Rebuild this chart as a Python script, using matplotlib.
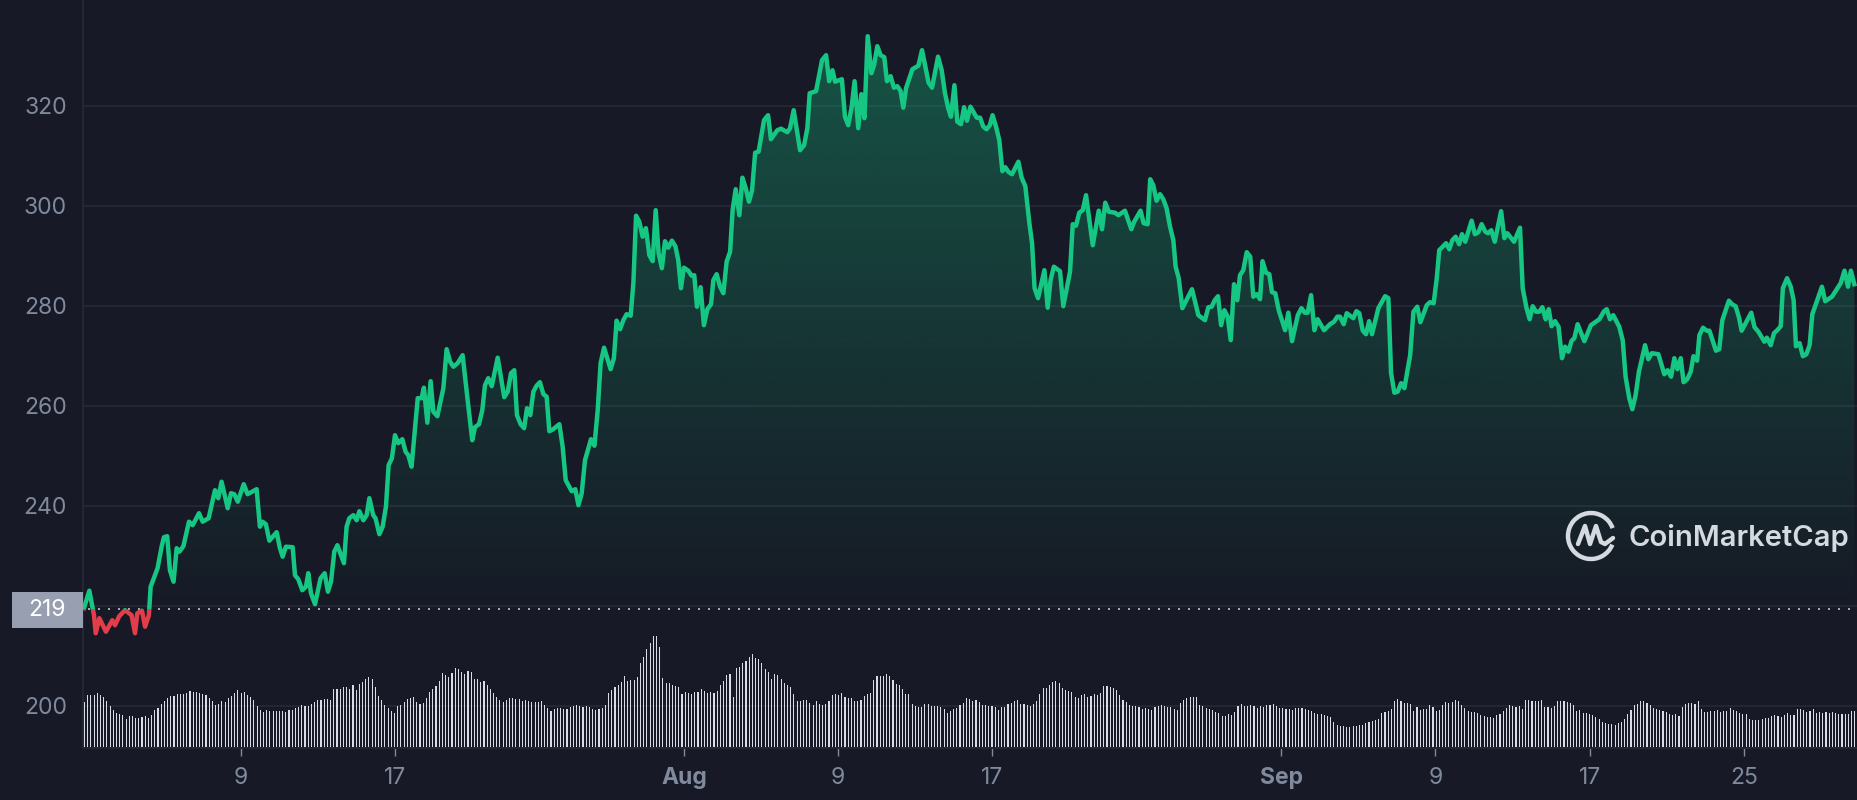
import numpy as np
import matplotlib
matplotlib.use("Agg")
import matplotlib.pyplot as plt
from matplotlib.lines import Line2D
from matplotlib.patches import Arc, Rectangle
from matplotlib.path import Path

plt.rcParams['font.family'] = ['Inter', 'DejaVu Sans']

BG = "#171a26"
GRID = "#232734"
GREY = "#808a9d"
GREEN = "#16c784"
RED = "#e23d4b"

# days since Jul 1
price_days = [
    -0.13, 0.15, 0.39, 0.48, 0.67, 1.01, 1.34, 1.48, 1.70, 2.0, 2.34, 2.52, 2.64, 2.88, 3.04, 3.24, 3.33, 3.69, 3.90, 4.02,
    4.19, 4.33, 4.52, 4.68, 4.82, 5.03, 5.32, 5.51, 5.84, 6.03, 6.34, 6.67, 6.84, 7.01, 7.33, 7.50, 7.67, 7.85, 8.16, 8.36,
    8.83, 9.0, 9.14, 9.31, 9.49, 9.87, 10.04, 10.18, 10.35, 10.70, 10.82, 10.99, 11.2, 11.39, 11.51, 11.65, 11.86, 12.15, 12.36, 12.53,
    12.69, 12.86, 13.02, 13.36, 13.5, 13.64, 13.85, 14.02, 14.16, 14.37, 14.54, 14.68, 14.88, 15.0, 15.2, 15.37, 15.54, 15.68, 15.85, 16.01,
    16.18, 16.39, 16.56, 16.70, 16.87, 17.19, 17.39, 17.51, 17.69, 17.86, 18.0, 18.21, 18.52, 18.69, 18.87, 19.04, 19.26, 19.52, 19.76, 20.02,
    20.16, 20.37, 20.54, 20.68, 20.85, 21.03, 21.34, 21.68, 21.86, 22.03, 22.2, 22.34, 22.53, 22.71, 22.86, 23.03, 23.19, 23.36, 23.53, 23.71,
    23.88, 24.02, 24.22, 24.54, 24.71, 24.87, 25.18, 25.37, 25.53, 25.70, 25.87, 26.18, 26.36, 26.53, 26.68, 26.86, 27.2, 27.37, 27.51, 27.69,
    27.86, 28.03, 28.24, 28.38, 28.52, 28.69, 28.86, 29.03, 29.21, 29.38, 29.54, 29.69, 29.86, 30.02, 30.19, 30.38, 30.56, 30.71, 30.85, 31.0,
    31.23, 31.4, 31.54, 31.68, 31.87, 32.04, 32.22, 32.41, 32.53, 32.7, 32.88, 33.05, 33.22, 33.4, 33.53, 33.69, 33.88, 34.04, 34.21, 34.38,
    34.54, 34.7, 34.88, 35.16, 35.37, 35.52, 35.85, 36.04, 36.37, 36.51, 36.7, 37.03, 37.24, 37.41, 37.53, 37.86, 38.17, 38.38, 38.54, 38.71,
    38.85, 39.2, 39.36, 39.53, 39.71, 39.86, 40.05, 40.21, 40.37, 40.54, 40.73, 40.87, 41.04, 41.21, 41.4, 41.54, 41.73, 41.9, 42.08, 42.24,
    42.39, 42.53, 42.86, 43.17, 43.36, 43.7, 43.88, 44.19, 44.38, 44.55, 44.72, 44.86, 45.04, 45.19, 45.38, 45.54, 45.69, 45.87, 46.2, 46.37,
    46.54, 46.71, 46.88, 47.02, 47.2, 47.37, 47.53, 47.68, 47.86, 48.03, 48.36, 48.53, 48.72, 48.93, 49.07, 49.2, 49.38, 49.71, 49.88, 50.03,
    50.2, 50.52, 50.69, 51.04, 51.18, 51.35, 51.52, 51.7, 51.87, 52.22, 52.53, 52.7, 52.87, 53.05, 53.37, 53.55, 53.89, 54.22, 54.37, 54.7,
    54.86, 55.07, 55.2, 55.36, 55.53, 55.71, 55.88, 56.05, 56.23, 56.4, 56.52, 56.68, 56.87, 57.37, 57.7, 58.04, 58.22, 58.39, 58.55, 58.72,
    58.88, 59.05, 59.22, 59.38, 59.55, 59.72, 59.86, 60.03, 60.21, 60.39, 60.55, 60.73, 60.9, 61.03, 61.21, 61.38, 61.52, 61.69, 61.87, 62.2,
    62.37, 62.56, 62.86, 63.05, 63.22, 63.37, 63.55, 63.72, 63.89, 64.22, 64.53, 64.74, 64.91, 65.05, 65.24, 65.4, 65.74, 65.9, 66.05, 66.23,
    66.4, 66.56, 66.71, 67.04, 67.39, 67.56, 67.7, 67.87, 68.04, 68.22, 68.39, 68.69, 68.86, 69.06, 69.22, 69.55, 69.72, 69.91, 70.07, 70.2,
    70.38, 70.55, 70.72, 70.88, 71.05, 71.23, 71.38, 71.55, 71.88, 72.05, 72.23, 72.4, 72.59, 72.73, 72.9, 73.08, 73.41, 73.58, 73.73, 74.08,
    74.39, 74.53, 74.73, 74.89, 75.05, 75.22, 75.39, 75.55, 75.72, 75.88, 76.03, 76.21, 76.39, 76.57, 76.73, 76.9, 77.07, 77.21, 77.38, 77.73,
    78.07, 78.51, 78.75, 78.89, 79.06, 79.23, 79.54, 79.72, 79.87, 80.06, 80.22, 80.39, 80.56, 80.88, 81.05, 81.23, 81.57, 81.88, 82.05, 82.23,
    82.4, 82.56, 82.73, 82.88, 83.07, 83.25, 83.39, 83.58, 83.7, 83.89, 84.08, 84.22, 84.56, 84.73, 84.89, 85.23, 85.39, 85.58, 85.75, 85.89,
    86.39, 86.56, 86.76, 87.07, 87.2, 87.4, 87.57, 87.74, 87.92, 88.03, 88.25, 88.44, 88.59, 88.71, 88.9, 89.07, 89.25, 89.42, 89.56, 90.06,
    90.23, 90.58, 91.03, 91.23, 91.41, 91.56, 91.74,
]
price_vals = [
    219.5, 223, 218.1, 214.5, 217.5, 214.8, 217.1, 216.1, 217.9, 219.1, 218.1, 214.5, 218.5, 219, 215.8, 218.1, 223.8, 227.5, 231.8, 233.7,
    233.9, 227.1, 224.8, 231.5, 230.8, 231.9, 236.8, 236.1, 238.5, 236.8, 237.5, 243.1, 241.5, 244.8, 239.5, 242.5, 242.3, 240.8, 244.3, 242.3,
    243.3, 235.8, 236.8, 236.3, 233, 234.7, 231.5, 229.8, 231.8, 231.7, 226.1, 225.3, 223.1, 223.8, 226.5, 222.5, 220.3, 225.5, 226.5, 222.8,
    224.8, 230.8, 232.1, 228.5, 235.8, 237.5, 238.1, 237.1, 238.9, 237.1, 238.1, 241.5, 238.1, 237.5, 234.3, 235.8, 239.8, 248.1, 249.5, 254.1,
    252.5, 253.3, 250.8, 250.1, 247.8, 261.5, 261.5, 263.6, 256.6, 264.9, 258.8, 257.9, 263.5, 271.3, 268.8, 267.8, 268.5, 270.1, 261.8, 253.1,
    255.7, 256.3, 259.1, 264.1, 265.5, 263.9, 269.6, 261.7, 262.8, 266.5, 267.1, 258.1, 256.3, 255.5, 259.5, 258.1, 262.8, 264, 264.7, 262.3,
    261.8, 254.9, 255.3, 256.3, 251.8, 245.1, 242.9, 243.3, 240.1, 242.5, 249.1, 253.3, 252, 259.1, 268.5, 271.6, 267.3, 269.5, 277, 275.3,
    277.1, 278.3, 278, 284.5, 298, 296.8, 293.8, 295.5, 290.1, 288.9, 299.1, 290.5, 287.5, 292.9, 291.6, 293, 291.9, 289.1, 283.5, 287.6,
    287, 286, 286.1, 279.8, 283.7, 276.1, 279.3, 280.3, 285.1, 286.3, 283.8, 282.5, 288.8, 290.8, 299.1, 303.3, 298.1, 305.6, 303.5, 300.8,
    303.1, 310.6, 310.8, 317.1, 318.1, 313.3, 315.1, 315.4, 314.7, 315.5, 319.1, 311.1, 312.1, 315.5, 322.5, 322.9, 329.1, 330.1, 324.9, 327.1,
    324.8, 325.3, 317.8, 316.1, 319.8, 324.9, 315.5, 322.3, 317.5, 333.9, 326.5, 328.1, 331.9, 330.1, 329.7, 324.9, 325.9, 323.6, 323.9, 323,
    319.6, 323.5, 327.3, 328, 331.1, 324.6, 323.6, 329.8, 327.1, 322.5, 319.5, 317.8, 324.1, 316.8, 316.3, 319.7, 317, 319.8, 317.6, 317.6,
    315.8, 315.3, 316.1, 318.1, 315.8, 313.1, 306.9, 307.7, 306.7, 306.3, 308.8, 305.6, 303.9, 296.5, 292.5, 283.5, 281.5, 287.1, 279.6, 285.1,
    287.8, 286.9, 279.9, 286.8, 296.3, 296, 298.6, 299.1, 302.1, 292.1, 299, 295.3, 300.6, 298.8, 298.6, 298.1, 299, 295.3, 296.8, 299,
    296.5, 296.3, 305.3, 304.1, 301, 302.3, 301.3, 299.5, 295.8, 293.1, 287.8, 285.5, 279.5, 283.3, 278.1, 277.1, 279.7, 279.8, 281.1, 281.9,
    276.1, 279.1, 277.8, 273.1, 284.3, 281.1, 286.1, 287.1, 290.7, 289.8, 281.8, 282.3, 281.3, 288.9, 286.6, 286.3, 282.7, 282.5, 279.1, 275.1,
    278.6, 272.9, 278.1, 279.5, 278.6, 278.6, 282.1, 275.1, 277.3, 275.1, 276.3, 276.8, 277.8, 277.8, 276.3, 278.5, 277.5, 278.9, 278.5, 275,
    274.3, 276.9, 274.3, 279.5, 281.9, 281.5, 266.5, 262.6, 262.8, 264.5, 263.5, 270.1, 278.8, 279.8, 276.7, 280.1, 280.7, 280.5, 285.5, 291.1,
    291.8, 292.5, 291.3, 293.1, 293.8, 292.3, 294.3, 292.8, 297, 294.3, 294.7, 296.3, 294.8, 294.5, 295.1, 292.8, 298.9, 293.5, 294.5, 292.8,
    295.6, 283.5, 279.5, 277.3, 279.9, 278.8, 278.8, 279.7, 277.3, 279.3, 275.9, 276.9, 275.8, 269.5, 271.8, 270.8, 273, 273.5, 276.3, 272.9,
    276.1, 277.3, 278.9, 279.3, 277.3, 278.1, 275.8, 273.1, 265.8, 261.5, 259.3, 262.1, 266.8, 272.1, 269.3, 270.5, 270.3, 266.3, 267.1, 265.8,
    269.5, 267.3, 269.5, 264.7, 265.3, 266.8, 269.9, 269, 274.1, 275.6, 275, 275, 271, 271.3, 277.1, 281, 280.3, 279.9, 277.7, 275,
    278.6, 275.7, 274.8, 272.8, 273.6, 272.1, 274.5, 275.1, 275.9, 283.5, 285.5, 283.8, 281.1, 271.9, 272.5, 269.9, 270.3, 272.1, 278.3, 283.8,
    280.9, 281.8, 284.5, 287, 283.8, 287, 284.3,
]
baseline = 219.3

# volume bars, relative units
volume = [
    135, 156, 156, 156, 161, 156, 150, 138, 123, 111, 101, 99, 96, 84, 93, 93, 87, 87, 89, 93, 86, 96, 111, 116, 129, 138, 146, 153, 153, 158,
    158, 159, 163, 168, 164, 165, 161, 158, 156, 146, 138, 126, 129, 138, 135, 146, 153, 161, 170, 163, 165, 157, 150, 141, 123, 111, 105, 111, 108, 108,
    108, 108, 108, 105, 111, 111, 116, 119, 126, 123, 123, 129, 135, 141, 141, 143, 144, 141, 174, 174, 174, 180, 180, 174, 186, 170, 189, 195, 204, 209,
    204, 179, 153, 141, 126, 116, 108, 102, 123, 126, 135, 144, 146, 150, 135, 129, 131, 147, 165, 174, 183, 198, 222, 216, 210, 222, 237, 234, 225, 219,
    228, 225, 204, 204, 195, 198, 186, 174, 162, 150, 141, 135, 141, 147, 147, 144, 144, 138, 141, 138, 135, 135, 135, 138, 126, 117, 108, 114, 117, 117,
    114, 114, 120, 123, 126, 123, 120, 122, 120, 114, 111, 114, 117, 126, 162, 171, 180, 186, 195, 213, 198, 201, 201, 210, 252, 270, 294, 312, 333, 333,
    300, 207, 192, 192, 186, 183, 180, 159, 165,
    162, 159, 165, 165, 174, 168, 162, 165, 162, 168, 186, 198, 216, 219, 150, 237, 240, 252, 258, 270, 279, 267, 264, 252, 234, 225, 204, 219, 216, 204,
    192, 186, 180, 159, 138, 138, 141, 141, 132, 126, 138, 129, 126, 129, 138, 156, 159, 156, 162, 150, 147, 147, 138, 138, 141, 153, 159, 162, 201, 213,
    213, 213, 219, 213, 201, 189, 186, 174, 159, 159, 129, 123, 120, 120, 129, 129, 123, 123, 123, 120, 114, 102, 108, 114, 117, 126, 132, 147, 144, 138,
    141, 135, 126, 126, 123, 123, 120, 111, 120, 120, 129, 132, 138, 141, 129, 129, 126, 123, 129, 138, 159, 177, 177, 186, 195, 198, 192, 177, 171, 168,
    165, 150, 147, 156, 159, 150, 153, 159, 156, 162, 183, 183, 180, 177, 171, 156, 141, 135, 126, 123, 123, 120, 114, 117, 114, 111, 120, 123, 126, 123,
    120, 120, 114, 111, 132, 141, 147, 150, 150, 150, 126, 123, 117, 114, 111, 105, 102, 93, 93, 99, 96, 105, 123, 129, 123, 123, 126, 123, 117, 123,
    120, 126, 126, 129,
    123, 117, 117, 114, 114, 111, 117, 117, 117, 114, 111, 108, 102, 99, 99, 96, 93, 90, 75, 66, 63, 63, 60, 60, 63, 63, 66, 66, 72, 75,
    78, 81, 84, 102, 105, 108, 114, 138, 144, 138, 132, 132, 129, 108, 120, 111, 114, 114, 126, 120, 108, 111, 126, 135, 132, 135, 141, 138, 126, 117,
    108, 105, 105, 102, 96, 93, 90, 90, 87, 96, 99, 108, 117, 126, 123, 120, 123, 114, 141, 141, 138, 138, 138, 141, 120, 120, 117, 123, 138, 138,
    138, 135, 132, 126, 108, 111, 102, 102, 99, 96, 90, 84, 75, 72, 69, 69, 66, 72, 75, 84, 99, 111, 126, 129, 138, 138, 132, 126, 117, 114,
    111, 108, 105, 99, 96, 99, 93, 120, 129, 132, 132, 129, 138, 114, 105, 105, 108, 108, 111, 105, 108, 108, 117, 111, 108, 102, 99, 99, 84, 81,
    81, 81, 84, 87, 87, 93, 96, 93, 90, 96, 102, 96, 96, 114, 114, 111, 105, 108, 114, 102, 105, 102, 105, 102, 105, 102, 99, 99, 99, 99,
    108, 108,
]

tick_days = [8, 16, 31, 39, 47, 62, 70, 78, 86]
tick_labels = ["9", "17", "Aug", "9", "17", "Sep", "9", "17", "25"]
bold_labels = ["Aug", "Sep"]
y_ticks = [200, 220, 240, 260, 280, 300, 320]
# 220 sits behind the current value box
y_labels = ["200", "", "240", "260", "280", "300", "320"]

fig = plt.figure(figsize=(18.58, 8), dpi=100, facecolor=BG)
ax = fig.add_axes([83 / 1858, 52 / 800, 1775 / 1858, 748 / 800], facecolor=BG)
ax.set_xlim(-0.18, 91.93)
ax.set_ylim(191.54, 341.14)

for s in ["top", "right"]:
    ax.spines[s].set_visible(False)
for s in ["left", "bottom"]:
    ax.spines[s].set_color(GRID)
    ax.spines[s].set_linewidth(1.5)

ax.set_yticks(y_ticks)
ax.set_yticklabels(y_labels)
ax.set_xticks(tick_days)
ax.set_xticklabels(tick_labels)
ax.grid(axis="y", color=GRID, linewidth=1.5, zorder=1)
ax.tick_params(axis="y", length=0, pad=11.5, labelcolor=GREY, labelsize=16.5)
ax.tick_params(axis="x", length=6, width=1, color=GREY, pad=8, labelcolor=GREY, labelsize=16.5)
for lab in ax.get_xticklabels():
    if lab.get_text() in bold_labels:
        lab.set_fontweight("bold")

# gradient under the line, only above the baseline
poly = ax.fill_between(price_days, price_vals, baseline, where=np.array(price_vals) >= baseline,
                       interpolate=True, color="none")
clip = Path.make_compound_path(*poly.get_paths())
grad = np.zeros((256, 1, 4))
grad[:, 0, :3] = matplotlib.colors.to_rgb(GREEN)
grad[:, 0, 3] = np.linspace(0.34, 0, 256)
im = ax.imshow(grad, extent=(-0.18, 91.93, baseline, 335), aspect="auto", origin="upper", zorder=2)
im.set_clip_path(clip, transform=ax.transData)

# line: green above the baseline, red below
line_up, = ax.plot(price_days, price_vals, color=GREEN, lw=3.2, solid_joinstyle="round", zorder=4)
line_up.set_clip_path(Rectangle((-1, baseline), 100, 200, transform=ax.transData))
line_down, = ax.plot(price_days, price_vals, color=RED, lw=3.2, solid_joinstyle="round", zorder=4)
line_down.set_clip_path(Rectangle((-1, 100), 100, baseline - 100, transform=ax.transData))

ax.plot([0.1, 91.93], [baseline, baseline], color="#a0a6b4", lw=1.44, dashes=(1, 4), zorder=3)
ax.set_xlim(-0.18, 91.93)
ax.set_ylim(191.54, 341.14)

# volume axis, same x
vol_ax = ax.twinx()
vol_ax.set_ylim(-3, 2241)
vol_ax.axis("off")
vol_x = np.linspace(-0.10, 91.76, len(volume))
vol_ax.bar(vol_x, volume, width=0.058, color="#d9dde6", linewidth=0)

# current value box
fig.add_artist(Rectangle((12, 172), 71, 36, transform=None, facecolor="#979fb0", edgecolor="none"))
fig.text(47.5 / 1858, 190 / 800, "219", color="white", fontsize=16.5, ha="center", va="center")

# logo, pixel coordinates from the bottom left
cx, cy = 1591, 264
fig.add_artist(Arc((cx, cy), 46, 46, theta1=20, theta2=338, transform=None, color="#d4dadf", lw=3.2))
mark = Line2D([cx - 13, cx - 6, cx - 1, cx + 5, cx + 10, cx + 14, cx + 22],
              [cy - 8, cy + 10, cy - 8, cy + 10, cy - 6, cy - 8, cy - 2],
              transform=None, color="#d4dadf", lw=3.2, solid_joinstyle="round", solid_capstyle="round")
fig.add_artist(mark)
fig.text(1629 / 1858, 262 / 800, "CoinMarketCap", color="#d4dadf", fontsize=21, fontweight="semibold",
         ha="left", va="center")

fig.savefig("out.png", dpi=100, facecolor=BG)
